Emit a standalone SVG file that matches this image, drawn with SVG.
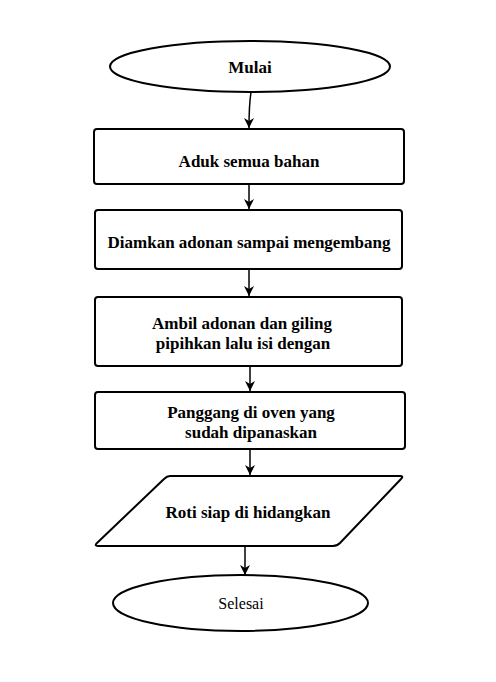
<svg xmlns="http://www.w3.org/2000/svg" width="496" height="682" viewBox="0 0 496 682">
<style>
.s{fill:#fff;stroke:#000;stroke-width:2}
.t{font-family:"Liberation Serif","Times New Roman",serif;font-size:17px;font-weight:bold;fill:#000;text-anchor:middle;dominant-baseline:central}
.n{font-weight:normal;font-size:16px}
.c{fill:none;stroke:#000;stroke-width:1.5}
</style>
<defs>
<marker id="a" viewBox="0 0 10 10" refX="10" refY="5" markerWidth="10" markerHeight="10" markerUnits="userSpaceOnUse" orient="auto">
<path d="M0,0 L10,5 L0,10 L3,5 Z" fill="#000"/>
</marker>
</defs>
<rect width="496" height="682" fill="#fff"/>
<g id="connectors">
<path class="c" d="M251,92 Q249,105 249,128" marker-end="url(#a)"/>
<path class="c" d="M249,184 L249,209" marker-end="url(#a)"/>
<path class="c" d="M249,269 L249,296" marker-end="url(#a)"/>
<path class="c" d="M250,366 L250,391" marker-end="url(#a)"/>
<path class="c" d="M250,449 L250,475" marker-end="url(#a)"/>
<path class="c" d="M245,546 L245,575" marker-end="url(#a)"/>
</g>
<g id="mulai">
<ellipse class="s" cx="250" cy="66.5" rx="140" ry="25.5"/>
<text class="t" x="250" y="67">Mulai</text>
</g>
<g id="aduk">
<rect class="s" x="94" y="129" width="310" height="55" rx="3"/>
<text class="t" x="249" y="161">Aduk semua bahan</text>
</g>
<g id="diamkan">
<rect class="s" x="95" y="210" width="307" height="59" rx="3"/>
<text class="t" x="249" y="242">Diamkan adonan sampai mengembang</text>
</g>
<g id="ambil">
<rect class="s" x="95" y="297" width="307" height="69" rx="3"/>
<text class="t" x="242" y="323">Ambil adonan dan giling</text>
<text class="t" x="243" y="343">pipihkan lalu isi dengan</text>
</g>
<g id="panggang">
<rect class="s" x="95" y="392" width="310" height="57" rx="3"/>
<text class="t" x="251" y="412">Panggang di oven yang</text>
<text class="t" x="251" y="432">sudah dipanaskan</text>
</g>
<g id="roti">
<path class="s" stroke-linejoin="round" d="M170,476 L400,476 Q404,476 401,479 L340,543 Q337,546 333,546 L98,546 Q94,546 97,543 L164,479 Q167,476 170,476 Z"/>
<text class="t" x="248" y="512">Roti siap di hidangkan</text>
</g>
<g id="selesai">
<ellipse class="s" cx="240.5" cy="603" rx="127.5" ry="28"/>
<text class="t n" x="241" y="603">Selesai</text>
</g>
</svg>
